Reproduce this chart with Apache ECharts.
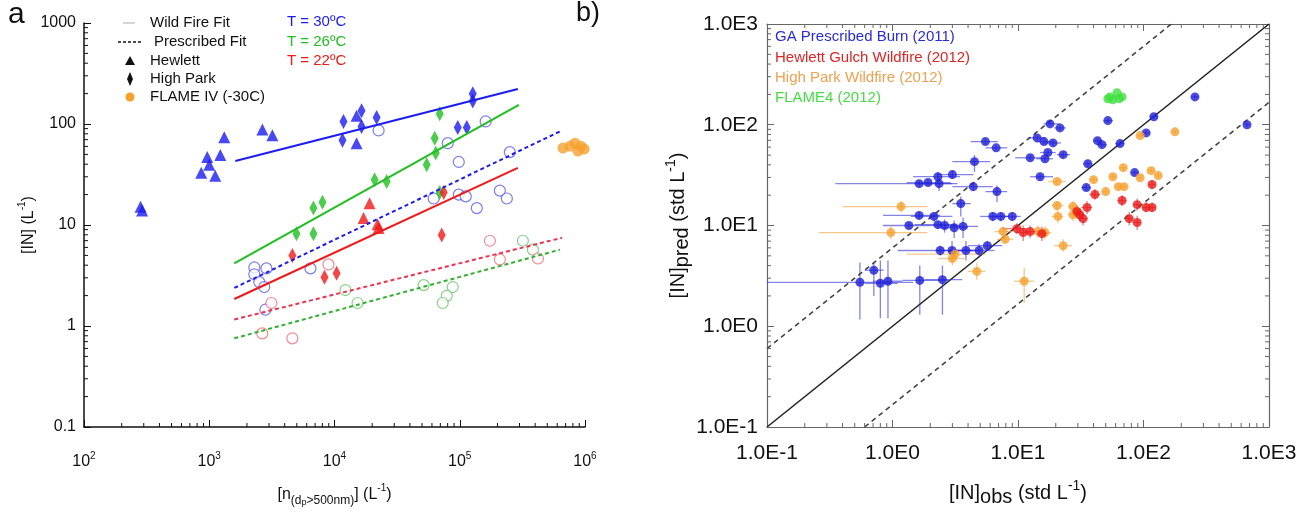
<!DOCTYPE html>
<html><head><meta charset="utf-8">
<script src="https://cdn.jsdelivr.net/npm/echarts@6/dist/echarts.min.js"></script>
<style>html,body{margin:0;padding:0;background:#fff}#c{width:1310px;height:512px}</style>
</head><body><div id="c"></div>
<script>
// ---------- Panel a data: [n(dp>500nm) (L^-1), IN (L^-1)] ----------
const hewlett30 = [[283,15.2],[291,13.9],[863,32.9],[964,47.1],[1000,39.4],[1117,30.7],[1225,49.3],[1318,73.8],[2655,88.4],[3190,77.3],[15000,121],[15000,64.6]];
const highPark30 = [[11800,106],[16440,135],[16440,94.6],[21700,116],[11590,69],[127000,199],[127000,169],[96400,92.5],[113800,92.5]];
const presc30 = [[22490,86.4],[161000,106],[80200,64.6],[251000,52.7],[98200,42.1],[61900,18.3],[98200,20],[111700,19.2],[136800,14.7],[209000,21.9],[237700,18.3],[2290,3.8],[2860,3.72],[2290,3.25],[2510,2.72],[2750,2.43],[6430,3.72],[2805,1.45]];
const highPark26 = [[69200,126],[63100,72.2],[64300,51.5],[54500,39.4],[20900,28.1],[26100,26.9],[6790,14.7],[8020,16.8],[4970,8.17],[6790,8.17],[69200,21]];
const presc26 = [[12240,2.27],[15280,1.69],[51500,2.54],[87900,2.43],[78700,1.99],[73100,1.69],[319000,6.98],[384000,5.7]];
const hewlett22 = [[19050,16.4],[17060,11.7],[22080,10.2],[22490,9.35]];
const highPark22 = [[74500,21],[71800,7.98],[4610,4.99],[8320,3.04],[10400,3.33]];
const presc22 = [[8950,4.07],[174000,6.98],[209000,4.56],[421000,4.66],[3130,1.69],[2650,0.845],[4610,0.755]];
const flameIV = [[667000,57.7],[759000,60.3],[832000,64.6],[929000,60.3],[985000,56.4],[879000,53.9]];
const wildFit30 = [[1614,43],[291000,222]];
const wildFit26 = [[1585,4.17],[296500,155]];
const wildFit22 = [[1585,1.85],[291000,36.8]];
const prescFit30 = [[1585,2.38],[631000,84.5]];
const prescFit26 = [[1585,0.755],[631000,5.7]];
const prescFit22 = [[1585,1.16],[655000,7.47]];

// ---------- Panel b data: [obs, pred, obsLow, obsHigh, predLow, predHigh] ----------
const gaPrescribed = [
 [5.5,68,4.2,6.9,64,72],[6.7,59,5.5,8.2,56,62],[4.5,43,3.0,6.0,34,50],[2.3,30.5,1.46,3.45,27,34],
 [3.0,32,2.25,4.4,29,35],[1.63,26,0.35,3.0,24,28],[1.92,26.7,1.3,2.9,25,28.5],[2.35,26,1.5,3.3,22,30],
 [4.4,24.3,3.0,6.3,22,27],[6.8,21.7,5.5,8.2,17,25],[3.5,16.5,3.0,4.2,12.3,19.4],[1.63,12.6,0.84,2.4,11.5,13.7],
 [2.14,12.3,1.4,3.0,11,13.5],[1.35,10,0.84,2.0,9.3,10.8],[2.3,10.2,1.5,3.2,9.3,11],[2.6,10,2.0,3.5,8.5,11.5],
 [3.1,9.5,2.4,4.0,7.5,11.2],[3.65,9.8,2.8,4.8,7.5,12],[6.3,12.3,5.0,7.5,11,13.5],[7.3,12.3,6.0,8.5,11,13.5],
 [9.0,12.3,7.5,10.5,11,13.5],[5.7,6.3,4.0,7.5,5.7,7.0],[2.4,5.65,1.1,4.4,5.0,6.3],[2.98,5.65,2.2,4.0,4.5,7.0],
 [3.85,5.65,2.8,5.2,4.5,7.0],[4.9,5.65,3.8,6.5,4.8,6.5],[0.71,3.6,0.6,0.85,2.0,4.3],[0.55,2.73,0.05,1.46,1.17,4.3],
 [0.8,2.67,0.6,1.1,1.2,4.5],[0.92,2.8,0.7,1.2,1.2,4.5],[1.65,2.85,1.2,2.8,1.3,4.0],[2.5,2.9,1.8,3.6,1.3,4.0],
 [257,189,240,275,180,198],[668,100,640,700,95,105],[121,120,112,130,114,126],[52,110,48,57,104,116],
 [18,102,16,21.5,97,107],[21.6,93,19.5,24,88,98],[105,83,98,112,79,88],[14.2,74,12,16.5,70,78],
 [16.1,68,14,18.5,64,72],[19,66,16.5,22,62,70],[43,69.5,40,47,66,73],[46.7,63.4,43,51,60,67],
 [65,65,60,70,61,69],[12.5,47,9.5,15.5,44,50],[16.4,46,14,19,43,49],[17.3,53,15,20,50,56],
 [22.9,50.5,20.5,26,47,54],[36,41,33,39,38,44],[85,33.5,80,91,31.5,35.5],[15,30.5,12.5,19,28.5,32.5],
 [35,23.8,32,38,22,25.5]
];
const hewlettGulch = [
 [117,25.5,110,125,23,28],[67.5,17.7,62,73,15.5,20],[41,20.3,37,45,18,23],[35.5,15.1,32,39,13,17.5],
 [89,16.1,83,95,14,18.5],[105,15.1,98,112,13.5,17],[117,15.1,110,125,13.5,17],[77,11.7,72,82,10,13.5],
 [89,10.7,83,95,9,12.5],[31,12.8,28,34,11,14.8],[33,11.7,30,36,10,13.5],[29.5,13.8,27,32,12,16],
 [9.8,9.3,7.5,12,8.3,10.5],[11,8.5,9.5,12.5,7,10],[15.5,8.3,14,17,7,9.8],[12.5,8.7,11,14,7.5,10]
];
const highParkFire = [
 [178,85,170,186,81,89],[94,78,89,99,74,82],[69,37.5,65,73,35,40],[115,35,108,122,33,37.5],
 [131,31.3,124,138,29.5,33],[57,30.5,54,60,28.5,32.5],[94,29.8,89,99,28,31.5],[40,28.5,37,43,26.5,30.5],
 [20.5,27.3,17.5,24,25,29.5],[63,24.3,60,66,22.5,26],[70,24.3,66,74,22.5,26],[50,21.7,47,53,20,23.5],
 [20.5,15.8,18.5,23,14,17.5],[27.4,15.4,25,30,13.5,17.5],[20.8,12.3,18.5,23,10.5,14],[27.4,12.8,25,30,11,14.5],
 [29.5,13.5,27,32,12,15],[14.4,8.7,12.5,16.5,7.5,10],[16.4,8.5,14.5,18.5,7.3,9.8],[22.9,6.3,19.5,27,5.5,7.3],
 [7.6,8.7,6.5,9,7.8,9.8],[7.9,7.3,6.8,9.2,6.5,8.2],[11.2,2.8,9.3,13.5,1.7,3.8],[4.7,3.5,4.0,5.5,2.9,4.3],
 [3.0,4.7,2.3,3.8,4.0,5.5],[3.15,5.2,1.3,5.5,4.6,5.8],[1.17,15.4,0.4,1.9,13.5,17.5],[0.97,8.5,0.26,1.9,7.3,10]
];
const flame4 = [[54,189],[61.5,208],[67.5,189],[57,177],[64,181],[52,181]];
const oneToOne = [[0.1,0.1],[1000,1000]];
const upperBound = [[0.1,0.6],[166.7,1000]];
const lowerBound = [[0.6,0.1],[1000,166.7]];

// ---------- tick labels ----------
const leftYTickLabels = ['0.1','1','10','100','1000'];      // 10^-1 .. 10^3
const leftXTickExponents = ['2','3','4','5','6'];             // 10^2 .. 10^6
const rightTickLabels = ['1.0E-1','1.0E0','1.0E1','1.0E2','1.0E3'];
// minor (log) tick positions: multiples 2..9 of each decade start
const minorMultipliers = [2,3,4,5,6,7,8,9];
const leftXDecades = [100,1000,10000,100000];
const leftYDecades = [0.1,1,10,100];
const rightDecades = [0.1,1,10,100];

const FONT = '"Liberation Sans", Arial, sans-serif';
const BLUE = '#1c1cf0', GREEN = '#1fbf1f', RED = '#f01818';
const BBLUE = '#1f1fd6', BRED = '#ea1a1a', BORANGE = '#f5a12e', BGREEN = '#3fe03f';

function exp10(v){ return Math.round(Math.log(v)/Math.LN10); }
function minorValues(decades){
  const out = [];
  decades.forEach(d => minorMultipliers.forEach(m => out.push(+(d*m).toPrecision(3))));
  return out;
}

const chart = echarts.init(document.getElementById('c'), null, {renderer:'canvas'});

function tickSeries(xi, yi, data, dx, dy, color){
  return {type:'custom', xAxisIndex:xi, yAxisIndex:yi, clip:false, silent:true, z:6, data,
    encode:{x:0, y:1},
    renderItem(p, api){
      const c = api.coord([api.value(0), api.value(1)]);
      return {type:'line', shape:{x1:c[0], y1:c[1], x2:c[0]+dx, y2:c[1]+dy}, style:{stroke:color, lineWidth:1}};
    }};
}
function errBarSeries(name, data, color){
  return {
    name, type:'custom', xAxisIndex:1, yAxisIndex:1, clip:true, z:2,
    data,
    renderItem(params, api){
      const x = api.value(0), y = api.value(1);
      const l = api.coord([api.value(2), y]), r = api.coord([api.value(3), y]);
      const b = api.coord([x, api.value(4)]), t = api.coord([x, api.value(5)]);
      return {type:'group', children:[
        {type:'line', shape:{x1:l[0],y1:l[1],x2:r[0],y2:r[1]}, style:{stroke:color, lineWidth:1.3, opacity:0.6}},
        {type:'line', shape:{x1:b[0],y1:b[1],x2:t[0],y2:t[1]}, style:{stroke:color, lineWidth:1.3, opacity:0.6}}
      ]};
    },
    encode:{x:0, y:1}
  };
}
function pts(name, data, color){
  return {name, type:'scatter', xAxisIndex:1, yAxisIndex:1, z:3, symbol:'circle', symbolSize:9,
    itemStyle:{color}, data: data.map(d=>[d[0],d[1]])};
}
function leftScatter(data, symbol, size, color, empty){
  return {type:'scatter', xAxisIndex:0, yAxisIndex:0, symbol, symbolSize:size, z:3,
    itemStyle: empty ? {color:'#fff', borderColor:color, borderWidth:1.2, opacity:0.75}
                     : {color}, data};
}
function leftLine(data, color, dashed){
  return {type:'line', xAxisIndex:0, yAxisIndex:0, data, showSymbol:false, symbol:'none', z:4,
    lineStyle:{color, width:2, type: dashed ? [4,3] : 'solid'}};
}
function rightLine(data, dashed){
  return {type:'line', xAxisIndex:1, yAxisIndex:1, data, showSymbol:false, symbol:'none', z:1,
    lineStyle:{color: dashed ? '#444' : '#222', width:1.6, type: dashed ? [5,4] : 'solid'}};
}

const supRich = {
  n:{fontSize:16, fontFamily:FONT, color:'#111', lineHeight:22},
  s:{fontSize:10, fontFamily:FONT, color:'#111', lineHeight:12, verticalAlign:'top'}
};

const rightAxisCommon = {
  type:'log', logBase:10, min:0.1, max:1000, splitNumber:4,
  axisLine:{show:true, lineStyle:{color:'#666', width:1.2}},
  axisTick:{show:true, inside:true, length:7, lineStyle:{color:'#666'}},
  splitLine:{show:false}
};

const option = {
  animation:false,
  backgroundColor:'#fff',
  textStyle:{fontFamily:FONT},
  grid:[
    {left:84, top:23, width:501, height:410},
    {left:767, top:24, width:502, height:407}
  ],
  xAxis:[
    {gridIndex:0, type:'log', logBase:10, min:100, max:1000000, splitNumber:4,
     axisLine:{lineStyle:{color:'#111', width:1.5}},
     axisTick:{inside:true, length:7, lineStyle:{color:'#111'}},
     splitLine:{show:false},
     axisLabel:{margin:24, formatter:v=>'{n|10}{s|'+leftXTickExponents[exp10(v)-2]+'}', rich:supRich},
     name:'{n|[n}{a|(d}{b|p}{a|>500nm)}{n|] (L}{s|-1}{n|)}', nameLocation:'middle', nameGap:56,
     nameTextStyle:{rich:{
       n:{fontSize:16, fontFamily:FONT, color:'#111', lineHeight:24},
       a:{fontSize:12, fontFamily:FONT, color:'#111', lineHeight:14, verticalAlign:'bottom'},
       b:{fontSize:9, fontFamily:FONT, color:'#111', lineHeight:10, verticalAlign:'bottom'},
       s:{fontSize:10, fontFamily:FONT, color:'#111', lineHeight:12, verticalAlign:'top'}
     }}},
    Object.assign({gridIndex:1, position:'bottom',
     axisLabel:{margin:16, fontSize:21, color:'#111', fontFamily:FONT, formatter:v=>rightTickLabels[exp10(v)+1]},
     name:'{n|[IN]}{a|obs}{n| (std L}{s|-1}{n|)}', nameLocation:'middle', nameGap:52,
     nameTextStyle:{rich:{
       n:{fontSize:20, fontFamily:FONT, color:'#111', lineHeight:28},
       a:{fontSize:20, fontFamily:FONT, color:'#111', lineHeight:22, verticalAlign:'bottom'},
       s:{fontSize:14, fontFamily:FONT, color:'#111', lineHeight:14, verticalAlign:'top'}
     }}}, rightAxisCommon),
    Object.assign({gridIndex:1, position:'top', axisLabel:{show:false}}, rightAxisCommon)
  ],
  yAxis:[
    {gridIndex:0, type:'log', logBase:10, min:0.1, max:1000, splitNumber:4,
     axisLine:{show:true, lineStyle:{color:'#111', width:1.5}},
     axisTick:{show:true, inside:true, length:7, lineStyle:{color:'#111'}},
     splitLine:{show:false},
     axisLabel:{margin:8, fontSize:16, color:'#111', fontFamily:FONT, formatter:v=>leftYTickLabels[exp10(v)+1]},
     name:'{n|[IN] (L}{s|-1}{n|)}', nameLocation:'middle', nameRotate:90, nameGap:44,
     nameTextStyle:{rich:{
       n:{fontSize:16, fontFamily:FONT, color:'#111', lineHeight:22},
       s:{fontSize:10, fontFamily:FONT, color:'#111', lineHeight:12, verticalAlign:'top'}
     }}},
    Object.assign({gridIndex:1, position:'left',
     axisLabel:{margin:9, fontSize:21, color:'#111', fontFamily:FONT, formatter:v=>rightTickLabels[exp10(v)+1]},
     name:'{n|[IN]}{a|pred}{n| (std L}{s|-1}{n|)}', nameLocation:'middle', nameRotate:90, nameGap:60,
     nameTextStyle:{rich:{
       n:{fontSize:20, fontFamily:FONT, color:'#111', lineHeight:28},
       a:{fontSize:20, fontFamily:FONT, color:'#111', lineHeight:22, verticalAlign:'bottom'},
       s:{fontSize:14, fontFamily:FONT, color:'#111', lineHeight:14, verticalAlign:'top'}
     }}}, rightAxisCommon),
    Object.assign({gridIndex:1, position:'right', axisLabel:{show:false}}, rightAxisCommon)
  ],
  graphic:[
    {type:'text', left:8, top:0, style:{text:'a', font:'30px '+FONT, fill:'#111'}},
    {type:'text', left:576, top:0, style:{text:'b)', font:'27px '+FONT, fill:'#111'}},
    // panel a legend
    {type:'line', shape:{x1:123,y1:23,x2:135,y2:23}, style:{stroke:'#aaa', lineWidth:1}},
    {type:'text', x:150, y:23, style:{text:'Wild Fire Fit', font:'15px '+FONT, fill:'#111', verticalAlign:'middle'}},
    {type:'line', shape:{x1:118,y1:42,x2:142,y2:42}, style:{stroke:'#111', lineWidth:1.5, lineDash:[3,2]}},
    {type:'text', x:154, y:42, style:{text:'Prescribed Fit', font:'15px '+FONT, fill:'#111', verticalAlign:'middle'}},
    {type:'polygon', shape:{points:[[125,65],[135,65],[130,56]]}, style:{fill:'#111'}},
    {type:'text', x:150, y:61, style:{text:'Hewlett', font:'15px '+FONT, fill:'#111', verticalAlign:'middle'}},
    {type:'polygon', shape:{points:[[130,72],[133,79],[130,86],[127,79]]}, style:{fill:'#111'}},
    {type:'text', x:150, y:79, style:{text:'High Park', font:'15px '+FONT, fill:'#111', verticalAlign:'middle'}},
    {type:'circle', shape:{cx:130, cy:97, r:4.5}, style:{fill:BORANGE}},
    {type:'text', x:150, y:97, style:{text:'FLAME IV (-30C)', font:'15px '+FONT, fill:'#111', verticalAlign:'middle'}},
    {type:'text', x:287, y:22, style:{text:'T = 30ºC', font:'15px '+FONT, fill:BLUE, verticalAlign:'middle'}},
    {type:'text', x:287, y:42, style:{text:'T = 26ºC', font:'15px '+FONT, fill:GREEN, verticalAlign:'middle'}},
    {type:'text', x:287, y:61, style:{text:'T = 22ºC', font:'15px '+FONT, fill:RED, verticalAlign:'middle'}},
    // panel b legend
    {type:'text', x:775, y:37, style:{text:'GA Prescribed Burn (2011)', font:'15px '+FONT, fill:'#2a2ad8', verticalAlign:'middle'}},
    {type:'text', x:775, y:58, style:{text:'Hewlett Gulch Wildfire (2012)', font:'15px '+FONT, fill:'#e02424', verticalAlign:'middle'}},
    {type:'text', x:775, y:78, style:{text:'High Park Wildfire (2012)', font:'15px '+FONT, fill:'#f0a050', verticalAlign:'middle'}},
    {type:'text', x:775, y:98, style:{text:'FLAME4 (2012)', font:'15px '+FONT, fill:'#44dd44', verticalAlign:'middle'}}
  ],
  series:[
    // minor log ticks
    tickSeries(0, 0, minorValues(leftXDecades).map(v=>[v, 0.1]), 0, -4, '#111'),
    tickSeries(0, 0, minorValues(leftYDecades).map(v=>[100, v]), 4, 0, '#111'),
    tickSeries(1, 1, minorValues(rightDecades).map(v=>[v, 0.1]), 0, -4, '#666'),
    tickSeries(1, 1, minorValues(rightDecades).map(v=>[v, 1000]), 0, 4, '#666'),
    tickSeries(1, 1, minorValues(rightDecades).map(v=>[0.1, v]), 4, 0, '#666'),
    tickSeries(1, 1, minorValues(rightDecades).map(v=>[1000, v]), -4, 0, '#666'),
    // panel a fits
    leftLine(wildFit30, BLUE, false),
    leftLine(wildFit26, GREEN, false),
    leftLine(wildFit22, RED, false),
    leftLine(prescFit30, BLUE, true),
    leftLine(prescFit26, '#30b030', true),
    leftLine(prescFit22, '#f03050', true),
    // panel a points
    leftScatter(presc30, 'circle', 11, '#5050e8', true),
    leftScatter(presc26, 'circle', 11, '#60c060', true),
    leftScatter(presc22, 'circle', 11, '#f06070', true),
    leftScatter(hewlett30, 'triangle', 12, BLUE, false),
    leftScatter(hewlett22, 'triangle', 12, RED, false),
    leftScatter(highPark30, 'diamond', [8,15], BLUE, false),
    leftScatter(highPark26, 'diamond', [8,15], GREEN, false),
    leftScatter(highPark22, 'diamond', [8,15], RED, false),
    leftScatter(flameIV, 'circle', 11, BORANGE, false),
    // panel b reference lines
    rightLine(oneToOne, false),
    rightLine(upperBound, true),
    rightLine(lowerBound, true),
    // panel b error bars and points
    errBarSeries('GA Prescribed Burn (2011)', gaPrescribed, '#3030d8'),
    errBarSeries('High Park Wildfire (2012)', highParkFire, '#f2a040'),
    errBarSeries('Hewlett Gulch Wildfire (2012)', hewlettGulch, '#e82020'),
    pts('GA Prescribed Burn (2011)', gaPrescribed, BBLUE),
    pts('High Park Wildfire (2012)', highParkFire, BORANGE),
    pts('Hewlett Gulch Wildfire (2012)', hewlettGulch, BRED),
    pts('FLAME4 (2012)', flame4.map(d=>[d[0],d[1]]), BGREEN)
  ]
};
chart.setOption(option);
</script>
</body></html>
